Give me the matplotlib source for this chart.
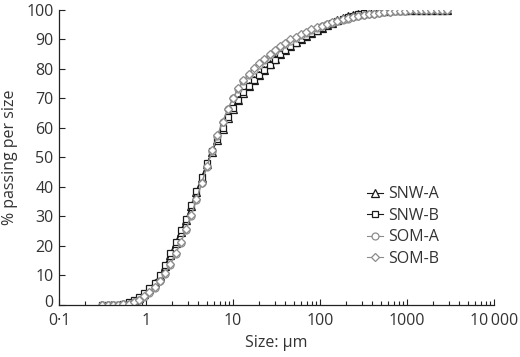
import matplotlib
matplotlib.use("Agg")
import matplotlib.pyplot as plt
import matplotlib.transforms as mtransforms
from matplotlib.ticker import FixedLocator, LogLocator, NullFormatter

# particle size classes (µm)
sizes = [0.316, 0.363, 0.417, 0.479, 0.550, 0.631, 0.724, 0.832, 0.955, 1.096,
         1.259, 1.445, 1.660, 1.905, 2.188, 2.512, 2.884, 3.311, 3.802, 4.365,
         5.012, 5.754, 6.607, 7.586, 8.710, 10.00, 11.48, 13.18, 15.14, 17.38,
         19.95, 22.91, 26.30, 30.20, 34.67, 39.81, 45.71, 52.48, 60.26, 69.18,
         79.43, 91.20, 104.7, 120.2, 138.0, 158.5, 182.0, 208.9, 239.9, 275.4,
         316.2, 363.1, 416.9, 478.6, 549.5, 631.0, 724.4, 831.8, 955.0, 1096,
         1259, 1445, 1660, 1905, 2188, 2512, 2884]

snw_a = [0.0, 0.0, 0.03, 0.1, 0.3, 0.7, 1.4, 2.4, 3.7, 5.4,
         7.3, 9.8, 13.1, 17.0, 21.0, 24.9, 28.8, 33.5, 38.3, 43.1,
         47.7, 52.0, 56.0, 59.8, 63.4, 66.6, 69.5, 72.0, 74.2, 76.2,
         78.0, 79.8, 81.6, 83.4, 85.1, 86.5, 87.8, 89.0, 90.1, 91.2,
         92.2, 93.1, 94.0, 94.9, 95.7, 96.5, 97.2, 97.8, 98.3, 98.7,
         99.0, 99.3, 99.5, 99.7, 99.8, 99.9, 99.95, 100, 100, 100,
         100, 100, 100, 100, 100, 100, 100]

snw_b = [0.0, 0.0, 0.05, 0.15, 0.4, 0.9, 1.6, 2.7, 4.1, 5.8,
         7.6, 10.2, 13.6, 17.6, 21.5, 25.3, 29.2, 34.0, 38.8, 43.5,
         48.0, 52.3, 56.3, 60.0, 63.6, 66.8, 69.6, 72.1, 74.2, 76.1,
         77.9, 79.6, 81.4, 83.2, 85.0, 86.4, 87.7, 88.9, 90.0, 91.1,
         92.1, 93.0, 93.9, 94.8, 95.6, 96.3, 97.0, 97.6, 98.1, 98.5,
         98.9, 99.2, 99.4, 99.6, 99.75, 99.85, 99.95, 100, 100, 100,
         100, 100, 100, 100, 100, 100, 100]

som_a = [0.0, 0.0, 0.02, 0.08, 0.2, 0.45, 0.9, 1.6, 2.6, 4.0,
         5.8, 8.0, 10.6, 13.7, 17.2, 21.1, 25.4, 30.2, 35.6, 41.2,
         46.8, 52.2, 57.3, 62.0, 66.3, 70.0, 73.2, 75.8, 77.9, 79.8,
         81.5, 83.1, 84.6, 86.0, 87.3, 88.5, 89.6, 90.6, 91.5, 92.3,
         93.1, 93.8, 94.5, 95.1, 95.7, 96.2, 96.7, 97.1, 97.5, 97.9,
         98.2, 98.5, 98.8, 99.0, 99.2, 99.4, 99.55, 99.7, 99.8, 99.9,
         99.95, 100, 100, 100, 100, 100, 100]

som_b = [0.0, 0.0, 0.03, 0.1, 0.25, 0.5, 1.0, 1.8, 2.9, 4.3,
         6.1, 8.3, 10.9, 14.0, 17.5, 21.4, 25.8, 30.6, 35.9, 41.5,
         47.0, 52.4, 57.5, 62.2, 66.5, 70.3, 73.5, 76.1, 78.3, 80.2,
         81.9, 83.5, 85.0, 86.4, 87.7, 88.9, 90.0, 91.0, 91.8, 92.6,
         93.4, 94.1, 94.7, 95.3, 95.9, 96.4, 96.8, 97.2, 97.6, 98.0,
         98.3, 98.6, 98.8, 99.0, 99.2, 99.4, 99.55, 99.7, 99.8, 99.9,
         99.95, 100, 100, 100, 100, 100, 100]

series = [("SNW-A", snw_a, "^", "#1a1a1a", 5.4),
          ("SNW-B", snw_b, "s", "#1a1a1a", 5.0),
          ("SOM-A", som_a, "o", "#8c8c8c", 5.0),
          ("SOM-B", som_b, "D", "#8c8c8c", 4.4)]

plt.rcParams["font.family"] = ["Open Sans", "DejaVu Sans"]

fig = plt.figure(figsize=(5.2, 3.57), dpi=100)
ax = fig.add_axes([0.1135, 0.1457, 0.8365, 0.8263])

for name, vals, mk, col, ms in series:
    ax.plot(sizes, vals, color=col, lw=0.8, marker=mk, ms=ms,
            mfc="white", mec=col, mew=0.9, label=name)

ax.set_xscale("log")
ax.set_xlim(0.1, 10000)
ax.set_ylim(0, 100)

ax.xaxis.set_major_locator(FixedLocator([0.1, 1, 10, 100, 1000, 10000]))
ax.set_xticklabels(["0·1", "1", "10", "100", "1000", "10\u2009000"],
                   fontsize=11.5, color="#333333")
ax.xaxis.set_minor_locator(LogLocator(base=10, subs=range(2, 10), numticks=20))
ax.xaxis.set_minor_formatter(NullFormatter())
ax.set_yticks(range(0, 101, 10))
ax.tick_params(axis="y", labelsize=11.5, labelcolor="#333333")

ax.tick_params(which="both", direction="in", color="#222222", width=0.8)
ax.tick_params(which="major", length=4)
ax.tick_params(which="minor", length=3)
ax.tick_params(axis="x", which="major", pad=6)
ax.tick_params(axis="y", which="major", pad=4)

# nudge the "0" on the y axis up a little so it clears "0·1"
fig.canvas.draw()
ylab0 = ax.get_yticklabels()[0]
ylab0.set_transform(ylab0.get_transform() +
                    mtransforms.ScaledTranslation(0, 3 / 72, fig.dpi_scale_trans))

for s in ["top", "right"]:
    ax.spines[s].set_visible(False)
for s in ["left", "bottom"]:
    ax.spines[s].set_linewidth(0.9)
    ax.spines[s].set_color("#222222")

ax.set_xlabel("Size: µm", fontsize=11.5, color="#333333", labelpad=4)
ax.set_ylabel("% passing per size", fontsize=11.5, color="#333333", labelpad=6)

ax.legend(loc="upper left", bbox_to_anchor=(0.69, 0.43), frameon=False,
          fontsize=11.5, handlelength=1.0, handletextpad=0.3,
          labelspacing=0.35, borderpad=0, labelcolor="#333333")

fig.savefig("out.png", dpi=100)
